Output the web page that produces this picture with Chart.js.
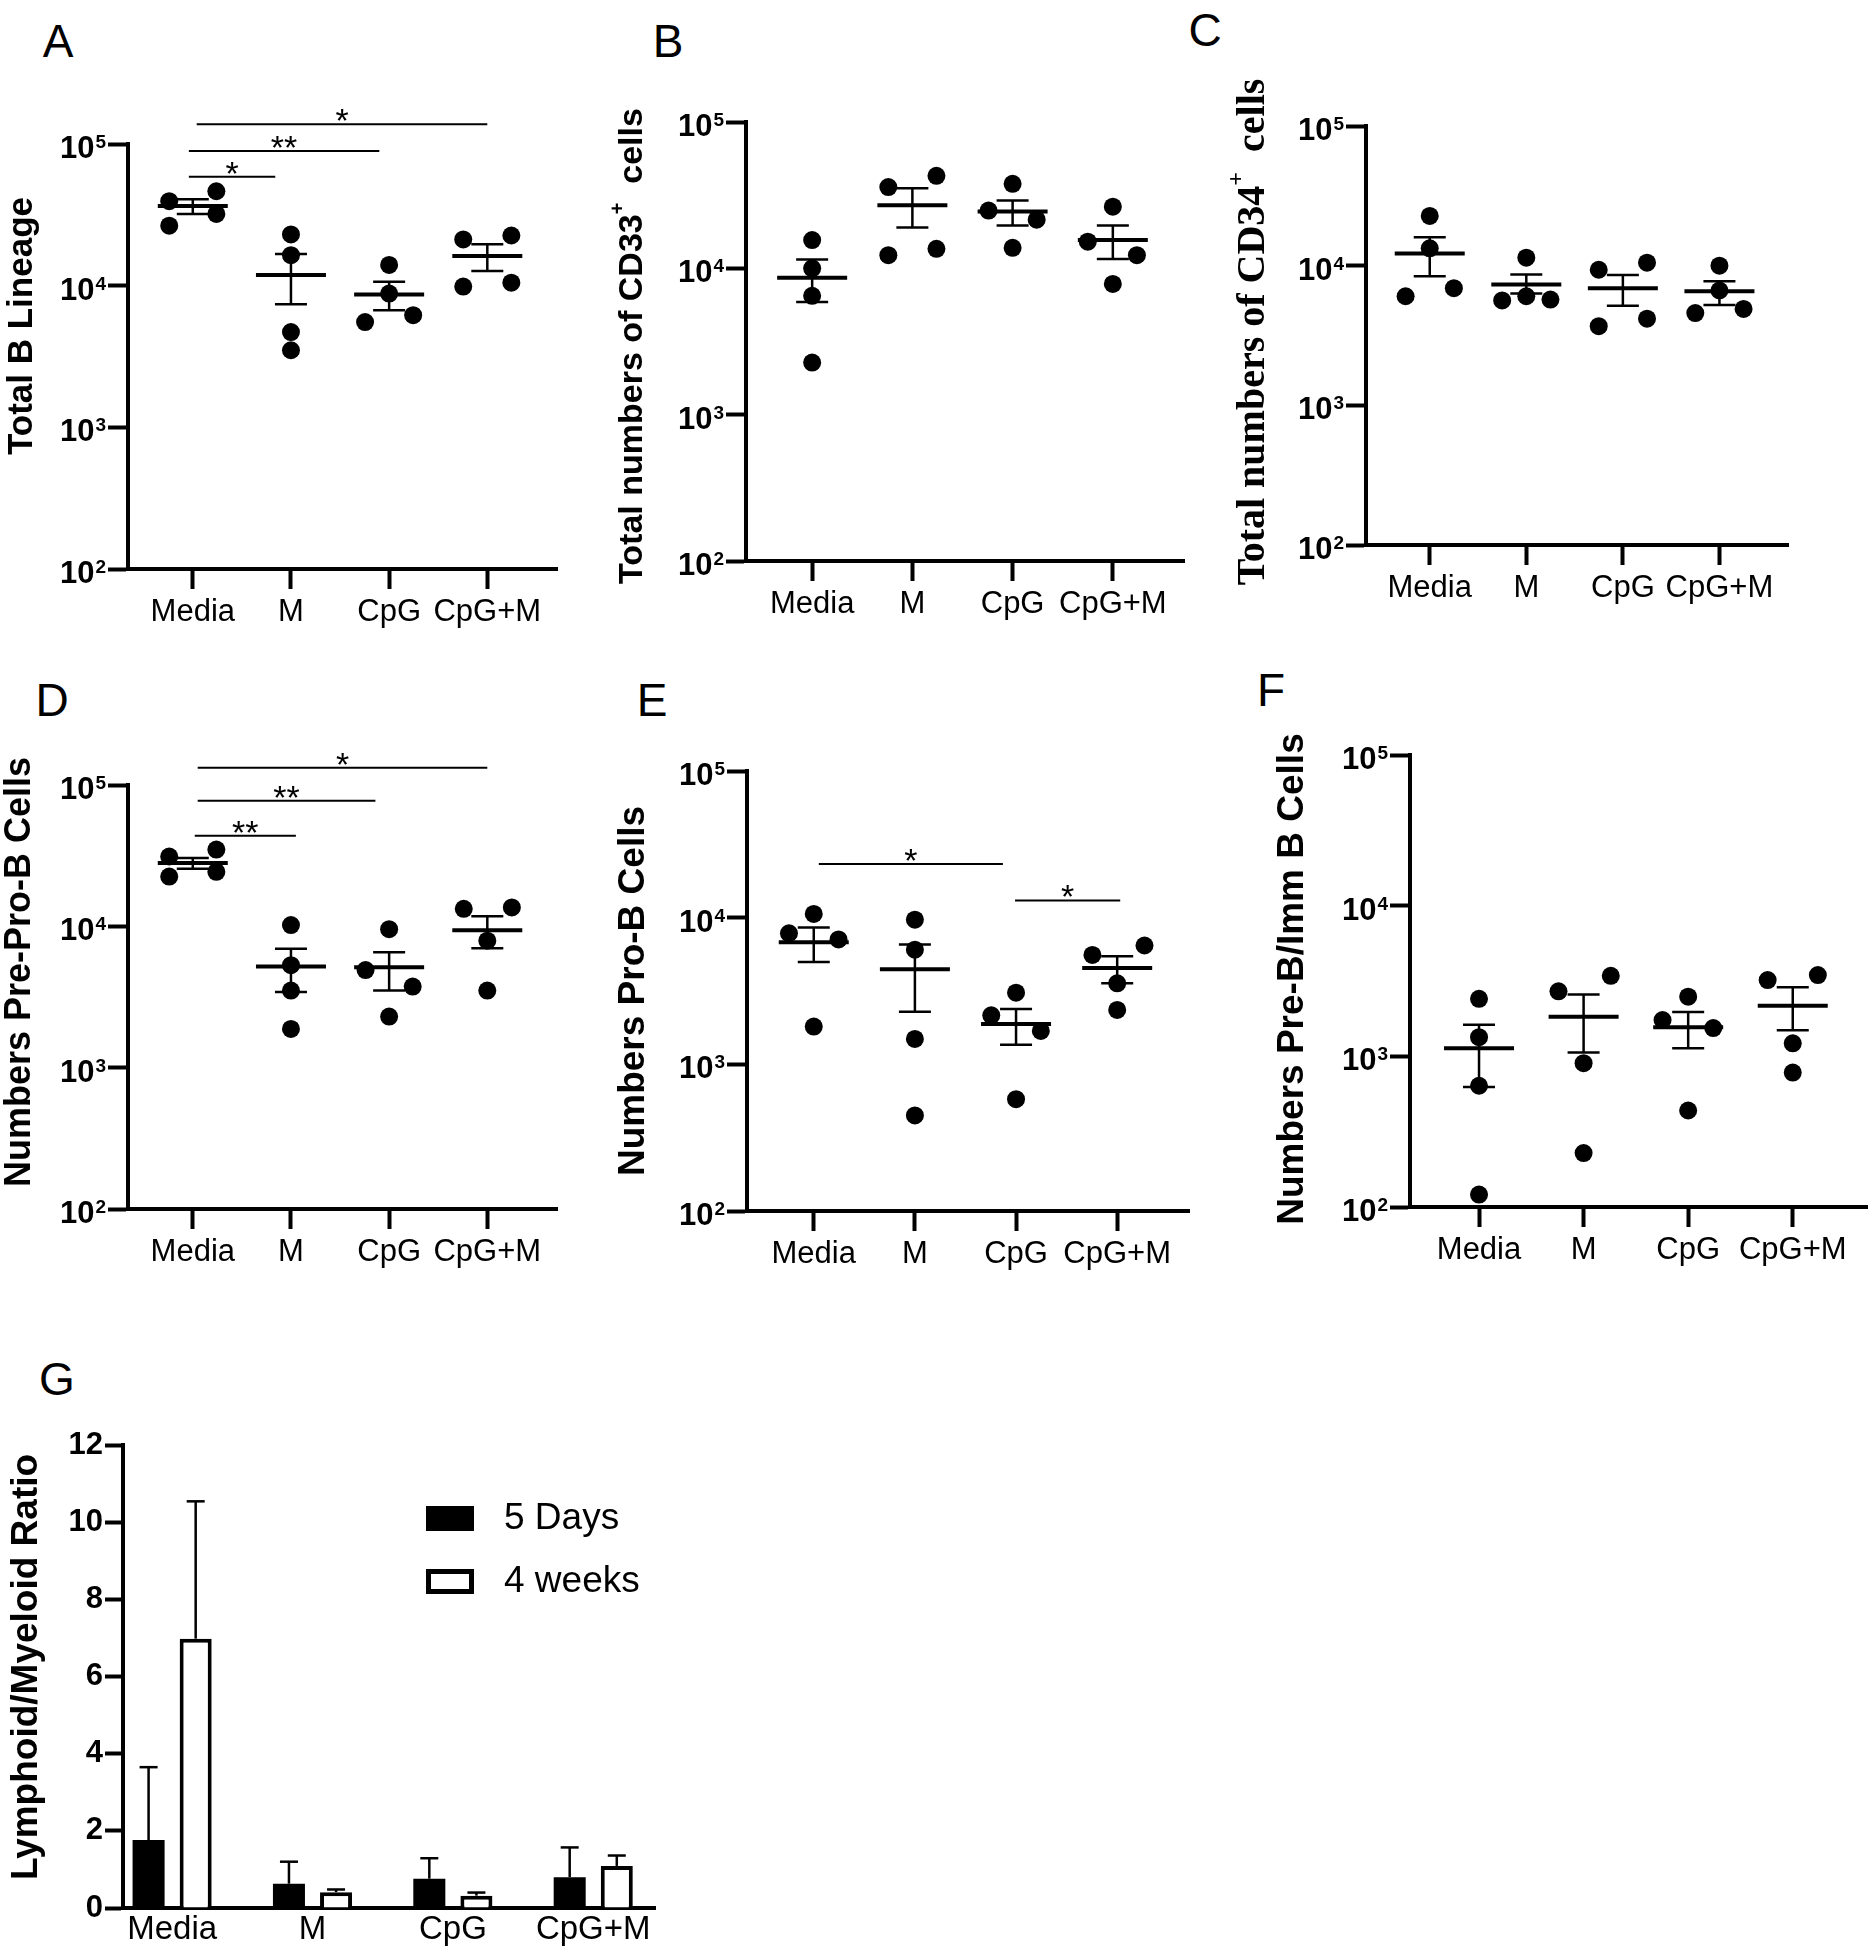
<!DOCTYPE html>
<html>
<head>
<meta charset="utf-8">
<script src="https://cdn.jsdelivr.net/npm/chart.js@4.4.0/dist/chart.umd.min.js"></script>
<style>
  html, body { margin: 0; padding: 0; background: #fff; }
  #page { position: relative; width: 1873px; height: 1950px; overflow: hidden; background: #fff; }
  #page canvas { position: absolute; }
  .tag { position: absolute; font: 46px "Liberation Sans", Arial, sans-serif; color: #000; line-height: 1; transform: translate(-50%, -50%); }
</style>
</head>
<body>
<div id="page">
  <div class="tag" style="left:58px;top:41px">A</div>
  <div class="tag" style="left:668px;top:41px">B</div>
  <div class="tag" style="left:1205px;top:30px">C</div>
  <div class="tag" style="left:52px;top:700px">D</div>
  <div class="tag" style="left:652px;top:700px">E</div>
  <div class="tag" style="left:1271px;top:690px">F</div>
  <div class="tag" style="left:57px;top:1379px">G</div>
</div>
<script>
const groups = ['Media', 'M', 'CpG', 'CpG+M'];
const logTicks = [100, 1000, 10000, 100000];
const logBase = '10';
const logExponents = ['2', '3', '4', '5'];

// A - total B lineage
const aValues = [[46400, 39500, 32100, 26500], [23000, 16400, 4700, 3500], [14000, 8800, 5530, 6190], [22600, 21200, 10500, 9850]];
const aSpread = [[0.24, -0.24, 0.24, -0.24], [0, 0, 0, 0], [0, 0, -0.245, 0.245], [0.245, -0.245, 0.245, -0.245]];
const aMean = [36500, 11900, 8660, 16200];
const aSemLow = [32100, 7380, 6700, 12700];
const aSemHigh = [40800, 16700, 10660, 19600];
const aSig = [[1.04, 4.0, 138000, '*'], [0.96, 2.9, 89300, '**'], [0.96, 1.84, 58700, '*']];

// B - CD33+
const bValues = [[15600, 10000, 6490, 2270], [42900, 35900, 13600, 12300], [37800, 24800, 21500, 13800], [26400, 15200, 12300, 7830]];
const bSpread = [[0, 0, 0, 0], [0.24, -0.24, 0.24, -0.24], [0, -0.24, 0.24, 0], [0, -0.25, 0.24, 0]];
const bMean = [8630, 27000, 24500, 15600];
const bSemLow = [5890, 19000, 19600, 11600];
const bSemHigh = [11500, 35200, 29100, 19600];

// C - CD34+
const cValues = [[22700, 13300, 6040, 6900], [11400, 5640, 6040, 5720], [9350, 10500, 3690, 4170], [10000, 4580, 6640, 4900]];
const cSpread = [[0, 0, -0.25, 0.25], [0, -0.25, 0, 0.25], [-0.25, 0.25, -0.25, 0.25], [0, -0.25, 0, 0.25]];
const cMean = [12200, 7330, 6900, 6550];
const cSemLow = [8390, 6330, 5170, 5230];
const cSemHigh = [16000, 8630, 8570, 7740];

// D - pre-pro-B
const dValues = [[31200, 34900, 22500, 24300], [10200, 5310, 3510, 1880], [9550, 4900, 3750, 2300], [13300, 13600, 7920, 3510]];
const dSpread = [[-0.24, 0.24, -0.24, 0.24], [0, 0, 0, 0], [0, -0.24, 0.24, 0], [-0.24, 0.25, 0, 0]];
const dMean = [28100, 5200, 5130, 9400];
const dSemLow = [25600, 3430, 3510, 7000];
const dSemHigh = [30400, 6930, 6560, 11800];
const dSig = [[1.05, 4.0, 132500, '*'], [1.05, 2.86, 77400, '**'], [1.02, 2.05, 43800, '**']];

// E - pro-B
const eValues = [[10600, 7830, 7110, 1810], [9690, 6050, 1490, 448], [3080, 2160, 1690, 579], [5570, 6460, 3570, 2350]];
const eSpread = [[0, -0.245, 0.245, 0], [0, 0, 0, 0], [0, -0.245, 0.245, 0], [-0.245, 0.27, 0, 0]];
const eMean = [6800, 4450, 1880, 4530];
const eSemLow = [4990, 2280, 1360, 3570];
const eSemHigh = [8570, 6550, 2380, 5460];
const eSig = [[1.05, 2.87, 23200, '*'], [2.99, 4.03, 13100, '*']];

// F - pre-B / immature B
const fValues = [[2410, 1340, 638, 121], [2700, 3420, 900, 228], [2490, 1740, 1540, 437], [3210, 3460, 1220, 780]];
const fSpread = [[0, 0, 0, 0], [-0.24, 0.26, 0, 0], [0, -0.245, 0.24, 0], [-0.24, 0.24, 0, 0]];
const fMean = [1130, 1830, 1560, 2170];
const fSemLow = [627, 1060, 1130, 1490];
const fSemHigh = [1620, 2570, 1970, 2870];

// G - lymphoid/myeloid ratio
const gSeries = ['5 Days', '4 weeks'];
const gDays5 = [1.76, 0.63, 0.76, 0.8];
const gDays5Sem = [1.89, 0.57, 0.53, 0.77];
const gWeeks4 = [6.98, 0.41, 0.32, 1.09];
const gWeeks4Sem = [3.56, 0.07, 0.08, 0.27];
const gTicks = [0, 2, 4, 6, 8, 10, 12];

const page = document.getElementById('page');
const sans = '"Liberation Sans", Arial, sans-serif';
const serif = '"Liberation Serif", "Times New Roman", serif';
const tickFont = { family: sans, size: 31, weight: 'bold' };
const catFont = { family: sans, size: 31 };

function seg(ctx, x1, y1, x2, y2) {
  ctx.beginPath();
  ctx.moveTo(x1, y1);
  ctx.lineTo(x2, y2);
  ctx.stroke();
}

function placeCanvas(box, padTop) {
  const left = box.titleX - 30;
  const top = box.top - padTop;
  const width = box.right + 12 - left;
  const height = box.bottom + 80 - top;
  const c = document.createElement('canvas');
  c.width = width;
  c.height = height;
  c.style.left = left + 'px';
  c.style.top = top + 'px';
  c.style.width = width + 'px';
  c.style.height = height + 'px';
  page.appendChild(c);
  return { c, left, top };
}

// rotated y axis title; parts flagged true are drawn as superscript
function axisTitle(parts, size, family, cy) {
  return {
    id: 'axisTitle',
    afterDraw(chart) {
      const ctx = chart.ctx;
      const supSize = Math.round(size * 0.6);
      ctx.save();
      ctx.fillStyle = '#000';
      ctx.textBaseline = 'middle';
      ctx.textAlign = 'left';
      let total = 0;
      parts.forEach(([t, sup]) => {
        ctx.font = 'bold ' + (sup ? supSize : size) + 'px ' + family;
        total += ctx.measureText(t).width;
      });
      ctx.translate(30, cy);
      ctx.rotate(-Math.PI / 2);
      let x = -total / 2;
      parts.forEach(([t, sup]) => {
        ctx.font = 'bold ' + (sup ? supSize : size) + 'px ' + family;
        ctx.fillText(t, x, sup ? -size * 0.42 : 0);
        x += ctx.measureText(t).width;
      });
      ctx.restore();
    }
  };
}

// 10^n labels with a real raised exponent
const logLabels = {
  id: 'logLabels',
  afterDraw(chart) {
    const { ctx, chartArea, scales: { y } } = chart;
    const right = chartArea.left - 22;
    ctx.save();
    ctx.fillStyle = '#000';
    ctx.textAlign = 'right';
    ctx.textBaseline = 'alphabetic';
    logTicks.forEach((v, i) => {
      const py = y.getPixelForValue(v);
      ctx.font = 'bold 19px ' + sans;
      const w = ctx.measureText(logExponents[i]).width;
      ctx.fillText(logExponents[i], right, py + 4);
      ctx.font = 'bold 31px ' + sans;
      ctx.fillText(logBase, right - w - 1, py + 14);
    });
    ctx.restore();
  }
};

// mean line with SEM whiskers, GraphPad style
function meanSem(mean, lo, hi) {
  return {
    id: 'meanSem',
    beforeDatasetsDraw(chart) {
      const { ctx, scales: { x, y } } = chart;
      ctx.save();
      ctx.strokeStyle = '#000';
      mean.forEach((m, i) => {
        const cx = x.getPixelForValue(i + 1);
        const ym = y.getPixelForValue(m);
        const yl = y.getPixelForValue(lo[i]);
        const yh = y.getPixelForValue(hi[i]);
        ctx.lineWidth = 4;
        seg(ctx, cx - 35, ym, cx + 35, ym);
        ctx.lineWidth = 2.5;
        seg(ctx, cx, yh, cx, yl);
        seg(ctx, cx - 16, yh, cx + 16, yh);
        seg(ctx, cx - 16, yl, cx + 16, yl);
      });
      ctx.restore();
    }
  };
}

// significance brackets above the groups
function sigBars(bars) {
  return {
    id: 'sigBars',
    afterDraw(chart) {
      const { ctx, scales: { x, y } } = chart;
      ctx.save();
      ctx.strokeStyle = '#000';
      ctx.fillStyle = '#000';
      ctx.lineWidth = 2;
      ctx.font = '34px ' + sans;
      ctx.textAlign = 'center';
      ctx.textBaseline = 'alphabetic';
      bars.forEach(([from, to, v, label]) => {
        const x1 = x.getPixelForValue(from);
        const x2 = x.getPixelForValue(to);
        const yy = y.getPixelForValue(v);
        seg(ctx, x1, yy, x2, yy);
        ctx.fillText(label, (x1 + x2) / 2, yy + 8);
      });
      ctx.restore();
    }
  };
}

const axisGrid = { drawOnChartArea: false, drawTicks: true, tickLength: 20, tickWidth: 4, tickColor: '#000' };
const axisBorder = { color: '#000', width: 4 };

function dotChart(box, title, values, spread, mean, lo, hi, sig) {
  const { c, left, top } = placeCanvas(box, 110);
  const points = [];
  values.forEach((vals, g) => vals.forEach((v, k) => points.push({ x: g + 1 + spread[g][k], y: v })));
  return new Chart(c, {
    type: 'scatter',
    data: {
      datasets: [{
        data: points,
        pointRadius: 9,
        pointHoverRadius: 9,
        pointBackgroundColor: '#000',
        pointBorderWidth: 0,
        clip: false
      }]
    },
    options: {
      responsive: false,
      animation: false,
      events: [],
      layout: { padding: { top: 110, right: 12, left: 0, bottom: 0 } },
      plugins: { legend: { display: false }, tooltip: { enabled: false } },
      scales: {
        x: {
          type: 'linear', min: 0.34, max: 4.71,
          afterBuildTicks: s => { s.ticks = groups.map((g, i) => ({ value: i + 1 })); },
          afterFit: s => { s.height = 80; },
          ticks: { callback: v => groups[v - 1], font: catFont, color: '#000', padding: 5, maxRotation: 0, autoSkip: false },
          grid: axisGrid,
          border: axisBorder
        },
        y: {
          type: 'logarithmic', min: 100, max: 100000,
          afterBuildTicks: s => { s.ticks = logTicks.map(v => ({ value: v })); },
          afterFit: s => { s.width = box.spine - left; },
          ticks: { display: false },
          grid: axisGrid,
          border: axisBorder
        }
      }
    },
    plugins: [meanSem(mean, lo, hi), sigBars(sig || []), logLabels,
      axisTitle(title.parts, title.size, title.family || sans, title.y - top)]
  });
}

dotChart({ spine: 128, right: 557, top: 144, bottom: 569, titleX: 22 },
  { parts: [['Total B Lineage']], size: 35, y: 326 },
  aValues, aSpread, aMean, aSemLow, aSemHigh, aSig);
dotChart({ spine: 746, right: 1184, top: 122, bottom: 561, titleX: 633 },
  { parts: [['Total numbers of CD33'], ['+', true], ['  cells']], size: 34, y: 346 },
  bValues, bSpread, bMean, bSemLow, bSemHigh);
dotChart({ spine: 1366, right: 1788, top: 126, bottom: 545, titleX: 1254 },
  { parts: [['Total numbers of CD34'], ['+', true], ['  cells']], size: 40, family: serif, y: 332 },
  cValues, cSpread, cMean, cSemLow, cSemHigh);
dotChart({ spine: 128, right: 557, top: 785, bottom: 1209, titleX: 20 },
  { parts: [['Numbers Pre-Pro-B Cells']], size: 36, y: 972 },
  dValues, dSpread, dMean, dSemLow, dSemHigh, dSig);
dotChart({ spine: 747, right: 1189, top: 771, bottom: 1211, titleX: 634 },
  { parts: [['Numbers Pro-B Cells']], size: 37, y: 991 },
  eValues, eSpread, eMean, eSemLow, eSemHigh, eSig);
dotChart({ spine: 1410, right: 1867, top: 755, bottom: 1207, titleX: 1293 },
  { parts: [['Numbers Pre-B/Imm B Cells']], size: 37, y: 979 },
  fValues, fSpread, fMean, fSemLow, fSemHigh);

// error whiskers (upper only) on the bars
function barErrors(sems) {
  return {
    id: 'barErrors',
    afterDatasetsDraw(chart) {
      const { ctx, scales: { y } } = chart;
      ctx.save();
      ctx.strokeStyle = '#000';
      ctx.lineWidth = 2.5;
      sems.forEach((sem, d) => {
        chart.getDatasetMeta(d).data.forEach((bar, i) => {
          const v = chart.data.datasets[d].data[i].y;
          const top = y.getPixelForValue(v + sem[i]);
          seg(ctx, bar.x, bar.y, bar.x, top);
          seg(ctx, bar.x - 9, top, bar.x + 9, top);
        });
      });
      ctx.restore();
    }
  };
}

// legend box inside the plot, like the original
const boxLegend = {
  id: 'boxLegend',
  afterDraw(chart) {
    const { ctx, chartArea } = chart;
    ctx.save();
    ctx.font = '37px ' + sans;
    ctx.textBaseline = 'middle';
    chart.data.datasets.forEach((ds, i) => {
      const x = chartArea.left + 303;
      const y = chartArea.top + 61 + i * 63;
      ctx.fillStyle = ds.borderColor || '#000';
      ctx.fillRect(x, y, 48, 25);
      if (ds.backgroundColor !== '#000') {
        ctx.fillStyle = ds.backgroundColor;
        ctx.fillRect(x + 5, y + 5, 38, 15);
      }
      ctx.fillStyle = '#000';
      ctx.fillText(ds.label, x + 78, y + 13);
    });
    ctx.restore();
  }
};

(function () {
  const box = { spine: 123, right: 655, top: 1445, bottom: 1908, titleX: 27 };
  const { c, left, top } = placeCanvas(box, 30);
  new Chart(c, {
    type: 'bar',
    data: {
      datasets: [
        { label: gSeries[0], data: gDays5.map((v, i) => ({ x: i + 1, y: v })), backgroundColor: '#000', borderColor: '#000', borderWidth: 0 },
        { label: gSeries[1], data: gWeeks4.map((v, i) => ({ x: i + 1, y: v })), backgroundColor: '#fff', borderColor: '#000', borderWidth: 4 }
      ]
    },
    options: {
      responsive: false,
      animation: false,
      events: [],
      categoryPercentage: 0.671,
      barPercentage: 0.68,
      layout: { padding: { top: 30, right: 12, left: 0, bottom: 0 } },
      plugins: { legend: { display: false }, tooltip: { enabled: false } },
      scales: {
        x: {
          type: 'linear', min: 0.65, max: 4.44, offset: false,
          afterBuildTicks: s => { s.ticks = groups.map((g, i) => ({ value: i + 1 })); },
          afterFit: s => { s.height = 80; },
          ticks: { callback: v => groups[v - 1], font: { family: sans, size: 33 }, color: '#000', padding: 2, maxRotation: 0, autoSkip: false },
          grid: { drawOnChartArea: false, drawTicks: false, offset: false },
          border: axisBorder
        },
        y: {
          type: 'linear', min: 0, max: 12,
          afterBuildTicks: s => { s.ticks = gTicks.map(v => ({ value: v })); },
          afterFit: s => { s.width = box.spine - left; },
          ticks: { font: tickFont, color: '#000', padding: 2 },
          grid: Object.assign({}, axisGrid, { tickLength: 18 }),
          border: axisBorder
        }
      }
    },
    plugins: [barErrors([gDays5Sem, gWeeks4Sem]), boxLegend,
      axisTitle([['Lymphoid/Myeloid Ratio']], 37, sans, 1667 - top)]
  });
})();
</script>
</body>
</html>
